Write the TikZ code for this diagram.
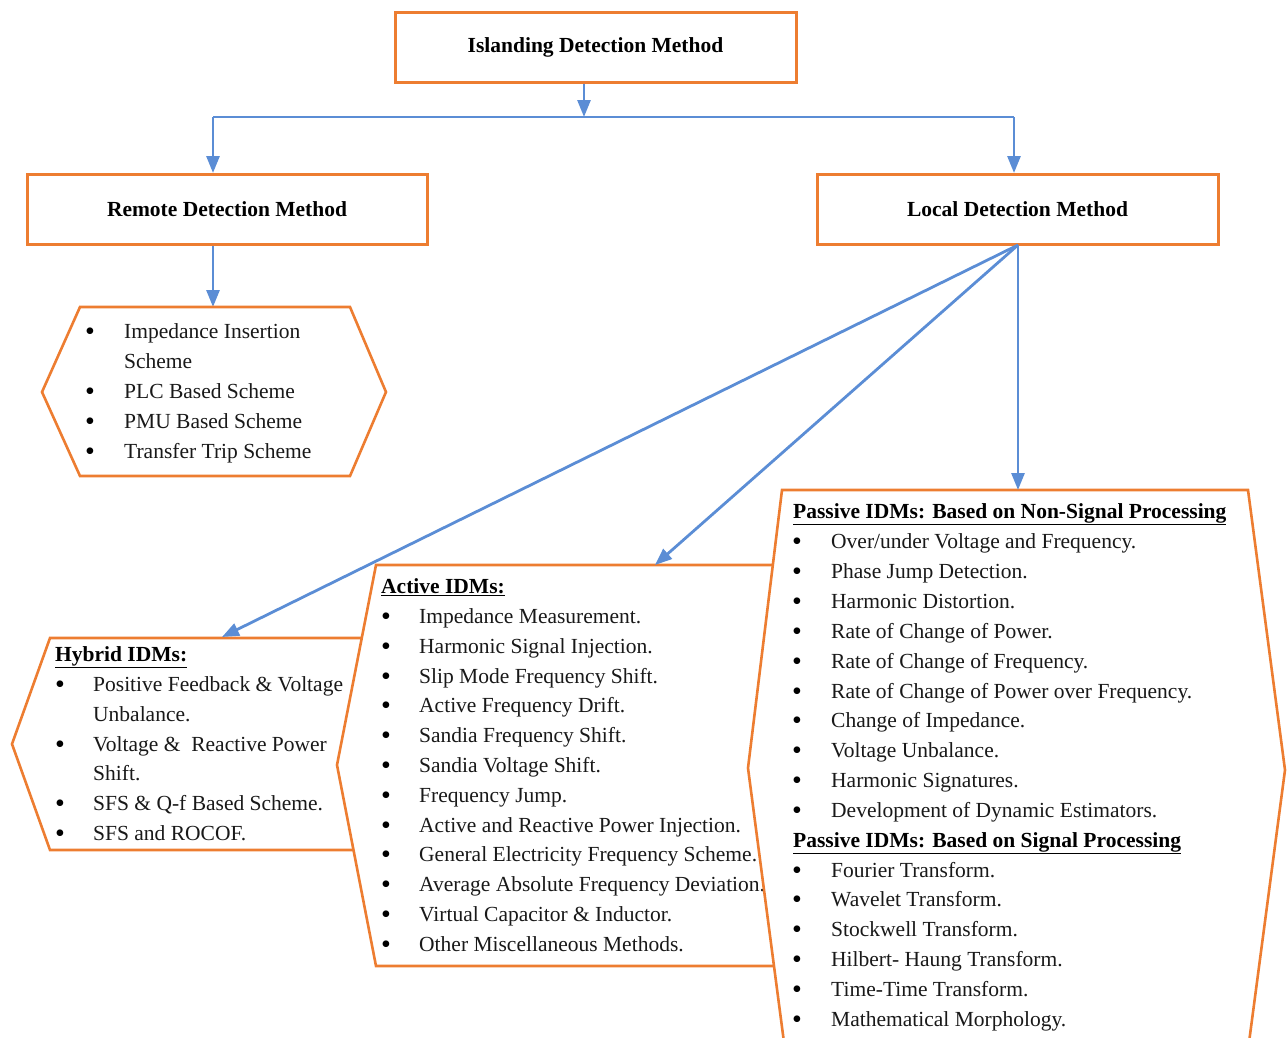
\documentclass[tikz,border=0pt]{standalone}
\usepackage{fontspec}
\setmainfont{Liberation Serif}
\usetikzlibrary{arrows.meta}
\definecolor{borange}{RGB}{237,125,49}
\definecolor{lblue}{RGB}{91,141,213}
\newcommand\bl[5]{\node[bulnode] (#1b) at (#2,{#4+2}) {•};\node[itemnode] (#1) at (#3,#4) {#5};}
\newcommand\cl[4]{\node[itemnode] (#1) at (#2,#3) {#4};}
\newcommand\hl[4]{\node[headnode] (#1) at (#2,#3) {\underline{#4}};}
\begin{document}
\begin{tikzpicture}[x=1pt,y=-1pt,
  mainbox/.style={draw=borange,line width=3pt,fill=white,minimum width=400pt,minimum height=70pt,inner sep=0pt,
     font=\fontsize{21.5}{26}\selectfont\bfseries},
  hexa/.style={draw=borange,line width=2.6pt,fill=white,line join=miter},
  conn/.style={draw=lblue,line width=2.8pt,-{Triangle[length=17pt,width=13pt]}},
  plain/.style={draw=lblue,line width=2.8pt},
  itemnode/.style={anchor=base west,inner sep=0pt,font=\fontsize{21.5}{26}\selectfont,text=black!90},
  bulnode/.style={anchor=base,inner sep=0pt,font=\fontsize{28}{26}\selectfont},
  headnode/.style={anchor=base west,inner sep=0pt,font=\fontsize{21.5}{26}\selectfont\bfseries}]
\useasboundingbox (0,0) rectangle (1288,1037);
\clip (0,0) rectangle (1288,1037);

% main boxes
\node[mainbox,minimum width=401pt] (idm) at (595.5,47) {Islanding Detection Method};
\node[mainbox] (rdm) at (227,209.5) {Remote Detection Method};
\node[mainbox,minimum width=401pt] (ldm) at (1017.5,209.5) {Local Detection Method};

\coordinate (split) at (584,117);
\coordinate (lsplit) at (213,117);
\coordinate (rsplit) at (1014,117);
\coordinate (hextop) at (213,307);
\coordinate (lfoot) at (1018,245);
\coordinate (hybtop) at (222,637);
\coordinate (acttop) at (655,565);
\coordinate (pastop) at (1018,490);

% tree connectors
\draw[conn] (idm.south -| split) -- (split);
\draw[plain] (lsplit) -- (rsplit);
\draw[conn] (lsplit) -- (rdm.north -| lsplit);
\draw[conn] (rsplit) -- (ldm.north -| rsplit);
\draw[conn] (rdm.south -| hextop) -- (hextop);

% remote hexagon
\draw[hexa] (80,307) -- (350,307) -- (386,392) -- (350,476) -- (80,476) -- (42,392) -- cycle;
\bl{r1}{90}{124}{338}{Impedance Insertion}
\cl{r1c}{124}{368}{Scheme}
\bl{r2}{90}{124}{398}{PLC Based Scheme}
\bl{r3}{90}{124}{428}{PMU Based Scheme}
\bl{r4}{90}{124}{458}{Transfer Trip Scheme}

% hybrid hexagon
\draw[hexa] (50,638) -- (400,638) -- (430,745) -- (400,850) -- (50,850) -- (12,744) -- cycle;
\hl{hh}{55}{661}{Hybrid IDMs:}
\bl{h1}{60}{93}{691}{Positive Feedback \& Voltage}
\cl{h1c}{93}{721}{Unbalance.}
\bl{h2}{60}{93}{751}{Voltage \&\ \ Reactive Power}
\cl{h2c}{93}{780}{Shift.}
\bl{h3}{60}{93}{810}{SFS \& Q-f Based Scheme.}
\bl{h4}{60}{93}{840}{SFS and ROCOF.}

% active hexagon
\draw[hexa] (376,565) -- (820,565) -- (850,765) -- (820,966) -- (376,966) -- (337,765) -- cycle;
\hl{ah}{381}{593}{Active IDMs:}
\bl{a1}{386}{419}{623}{Impedance Measurement.}
\bl{a2}{386}{419}{653}{Harmonic Signal Injection.}
\bl{a3}{386}{419}{683}{Slip Mode Frequency Shift.}
\bl{a4}{386}{419}{712}{Active Frequency Drift.}
\bl{a5}{386}{419}{742}{Sandia Frequency Shift.}
\bl{a6}{386}{419}{772}{Sandia Voltage Shift.}
\bl{a7}{386}{419}{802}{Frequency Jump.}
\bl{a8}{386}{419}{832}{Active and Reactive Power Injection.}
\bl{a9}{386}{419}{861}{General Electricity Frequency Scheme.}
\bl{a10}{386}{419}{891}{Average Absolute Frequency Deviation.}
\bl{a11}{386}{419}{921}{Virtual Capacitor \& Inductor.}
\bl{a12}{386}{419}{951}{Other Miscellaneous Methods.}

% passive hexagon
\draw[hexa] (782,490) -- (1248,490) -- (1285,770) -- (1248,1050) -- (785,1050) -- (748,768) -- cycle;
\hl{ph1}{793}{518}{Passive IDMs: Based on Non-Signal Processing}
\bl{p1}{797}{831}{548}{Over/under Voltage and Frequency.}
\bl{p2}{797}{831}{578}{Phase Jump Detection.}
\bl{p3}{797}{831}{608}{Harmonic Distortion.}
\bl{p4}{797}{831}{638}{Rate of Change of Power.}
\bl{p5}{797}{831}{668}{Rate of Change of Frequency.}
\bl{p6}{797}{831}{698}{Rate of Change of Power over Frequency.}
\bl{p7}{797}{831}{727}{Change of Impedance.}
\bl{p8}{797}{831}{757}{Voltage Unbalance.}
\bl{p9}{797}{831}{787}{Harmonic Signatures.}
\bl{p10}{797}{831}{817}{Development of Dynamic Estimators.}
\hl{ph2}{793}{847}{Passive IDMs: Based on Signal Processing}
\bl{q1}{797}{831}{877}{Fourier Transform.}
\bl{q2}{797}{831}{906}{Wavelet Transform.}
\bl{q3}{797}{831}{936}{Stockwell Transform.}
\bl{q4}{797}{831}{966}{Hilbert- Haung Transform.}
\bl{q5}{797}{831}{996}{Time-Time Transform.}
\bl{q6}{797}{831}{1026}{Mathematical Morphology.}

% local connectors (drawn last)
\draw[conn] (lfoot) -- (hybtop);
\draw[conn] (lfoot) -- (acttop);
\draw[conn] (lfoot) -- (pastop);
\end{tikzpicture}
\end{document}
